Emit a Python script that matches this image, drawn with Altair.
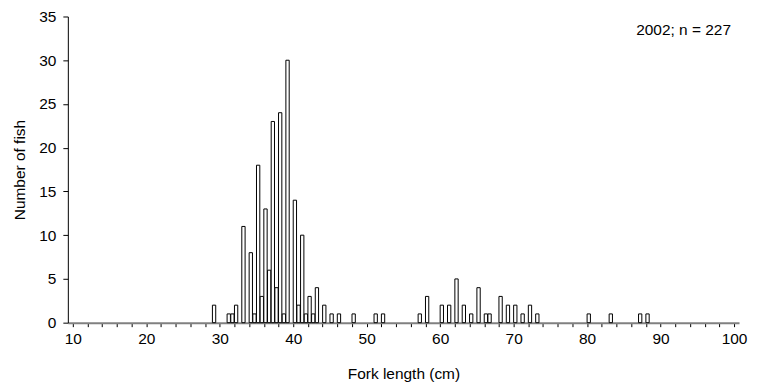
import altair as alt
import pandas as pd

# Fork length bins (cm, 0.5 cm bins, bin start) and number of fish
lengths = [29, 31, 31.5, 32, 33, 34, 34.5, 35, 35.5, 36, 36.5, 37, 37.5, 38, 38.5,
           39, 40, 40.5, 41, 41.5, 42, 42.5, 43, 44, 45, 46, 48, 51, 52, 57, 58,
           60, 61, 62, 63, 64, 65, 66, 66.5, 68, 69, 70, 71, 72, 73, 80, 83, 87, 88]
counts = [2, 1, 1, 2, 11, 8, 1, 18, 3, 13, 6, 23, 4, 24, 1,
          30, 14, 2, 10, 1, 3, 1, 4, 2, 1, 1, 1, 1, 1, 1, 3,
          2, 2, 5, 2, 1, 4, 1, 1, 3, 2, 2, 1, 2, 1, 1, 1, 1, 1]
x_ticks = list(range(10, 101, 2))
y_ticks = [0, 5, 10, 15, 20, 25, 30, 35]
note = "2002; n = 227"

df = pd.DataFrame({"length": lengths, "count": counts})

FONT = "Liberation Sans"
FS = 15.5

x_scale = alt.Scale(domain=[10, 100], nice=False, zero=False)
y_scale = alt.Scale(domain=[0, 35], nice=False)

bars = alt.Chart(df).transform_calculate(
    end="datum.length + 0.45"
).mark_bar(fill="white", stroke="black", strokeWidth=1, orient="vertical").encode(
    x=alt.X("length:Q", scale=x_scale,
            axis=alt.Axis(values=x_ticks, labelExpr="datum.value % 10 == 0 ? datum.label : ''",
                          labelOverlap=False, tickCount=100,
                          title="Fork length (cm)", grid=False,
                          domainColor="#808080", domainWidth=2,
                          tickColor="black", tickSize=4, tickWidth=1,
                          labelFont=FONT, labelFontSize=FS, labelColor="black",
                          labelPadding=5, labelFlush=False,
                          titleFont=FONT, titleFontSize=FS, titleFontWeight="normal",
                          titleColor="black", titlePadding=19)),
    x2="end:Q",
    y=alt.Y("count:Q", scale=y_scale,
            axis=alt.Axis(values=y_ticks, title="Number of fish", grid=False,
                          labelOverlap=False, tickCount=20,
                          domainColor="black", tickColor="black", tickSize=5,
                          labelFont=FONT, labelFontSize=FS, labelColor="black",
                          labelPadding=7,
                          titleFont=FONT, titleFontSize=FS, titleFontWeight="normal",
                          titleColor="black", titleX=-48, titleY=153.5,
                          titleAngle=-90, titleAlign="center", titleBaseline="middle")),
    y2=alt.datum(0),
)

label = alt.Chart(pd.DataFrame({"t": [note]})).mark_text(
    align="right", baseline="middle", font=FONT, fontSize=FS, color="black", dx=-3
).encode(
    x=alt.datum(100),
    y=alt.datum(33.5),
    text="t:N",
)

chart = alt.layer(bars, label).properties(
    width=673, height=307,
    padding={"left": 60, "top": 8, "right": 10, "bottom": 66},
    autosize=alt.AutoSizeParams(type="none"),
).configure_view(stroke=None)

chart.save("out.html", embed_options={"renderer": "svg", "actions": False})
